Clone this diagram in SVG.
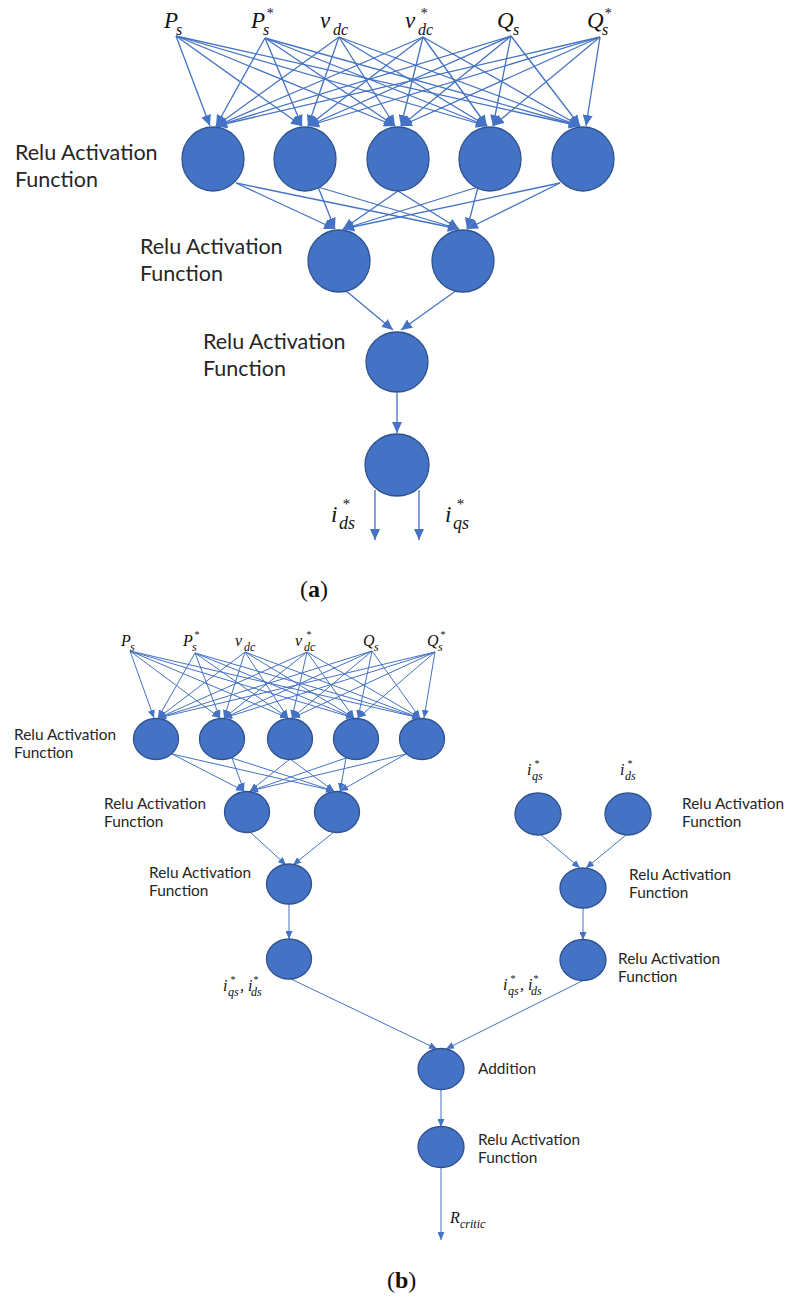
<svg xmlns="http://www.w3.org/2000/svg" width="787" height="1304" viewBox="0 0 787 1304">
<style>
.n{fill:#4472C4;stroke:#2F528F;stroke-width:1.3}
.e{stroke:#4472C4;stroke-width:1.3;fill:none;marker-end:url(#ah)}
.es{stroke:#4472C4;stroke-width:1;fill:none;marker-end:url(#ahs)}
.la{font-family:Lato,"Open Sans",sans-serif;font-size:21.5px;fill:#262626}
.lb{font-family:Lato,"Open Sans",sans-serif;font-size:15.4px;fill:#262626}
.ma{font-family:"Liberation Serif",serif;font-style:italic;font-size:23px;fill:#111}
.mb{font-family:"Liberation Serif",serif;font-style:italic;font-size:16px;fill:#111}
.cap{font-family:"Liberation Serif",serif;font-size:24px;fill:#111}
</style>
<defs>
<marker id="ah" markerUnits="userSpaceOnUse" markerWidth="11" markerHeight="10" refX="11" refY="5" orient="auto"><path d="M0,0 L11,5 L0,10 z" fill="#4472C4"/></marker>
<marker id="ahs" markerUnits="userSpaceOnUse" markerWidth="8" markerHeight="7" refX="8" refY="3.5" orient="auto"><path d="M0,0 L8,3.5 L0,7 z" fill="#4472C4"/></marker>
</defs>
<rect width="787" height="1304" fill="#fff"/>

<g id="connectors">
<!-- (a) inputs to layer 1 -->
<path class="e" d="M176,36 L210,126"/><path class="e" d="M265,38 L216,126"/><path class="e" d="M339,37 L216,126"/><path class="e" d="M423,37 L216,126"/><path class="e" d="M511,36 L216,126"/><path class="e" d="M600,37 L216,126"/>
<path class="e" d="M176,36 L302,126"/><path class="e" d="M265,38 L302,126"/><path class="e" d="M339,37 L308,126"/><path class="e" d="M423,37 L308,126"/><path class="e" d="M511,36 L308,126"/><path class="e" d="M600,37 L308,126"/>
<path class="e" d="M176,36 L395,126"/><path class="e" d="M265,38 L395,126"/><path class="e" d="M339,37 L395,126"/><path class="e" d="M423,37 L401,126"/><path class="e" d="M511,36 L401,126"/><path class="e" d="M600,37 L401,126"/>
<path class="e" d="M176,36 L487,126"/><path class="e" d="M265,38 L487,126"/><path class="e" d="M339,37 L487,126"/><path class="e" d="M423,37 L487,126"/><path class="e" d="M511,36 L493,126"/><path class="e" d="M600,37 L493,126"/>
<path class="e" d="M176,36 L580,126"/><path class="e" d="M265,38 L580,126"/><path class="e" d="M339,37 L580,126"/><path class="e" d="M423,37 L580,126"/><path class="e" d="M511,36 L580,126"/><path class="e" d="M600,37 L586,126"/>
<!-- (a) layer 1 to layer 2 -->
<path class="e" d="M236,183 L335,229"/><path class="e" d="M236,183 L459,229"/>
<path class="e" d="M318,187 L335,229"/><path class="e" d="M318,187 L459,229"/>
<path class="e" d="M398,191 L343,229"/><path class="e" d="M398,191 L459,229"/>
<path class="e" d="M478,187 L343,229"/><path class="e" d="M478,187 L467,229"/>
<path class="e" d="M560,183 L343,229"/><path class="e" d="M560,183 L467,229"/>
<!-- (a) layer 2 to 3, 3 to 4, outputs -->
<path class="e" d="M345,290 L393,330"/><path class="e" d="M457,290 L401,330"/>
<path class="e" d="M397,393 L397,433"/>
<path class="e" d="M375,490 L375,540"/><path class="e" d="M419,490 L419,540"/>

<!-- (b) inputs to layer 1 -->
<path class="es" d="M130,651 L154,718"/><path class="es" d="M195,653 L158,718"/><path class="es" d="M245,652 L158,718"/><path class="es" d="M307,652 L158,718"/><path class="es" d="M372,651 L158,718"/><path class="es" d="M435,652 L158,718"/>
<path class="es" d="M130,651 L220,718"/><path class="es" d="M195,653 L220,718"/><path class="es" d="M245,652 L224,718"/><path class="es" d="M307,652 L224,718"/><path class="es" d="M372,651 L224,718"/><path class="es" d="M435,652 L224,718"/>
<path class="es" d="M130,651 L288,718"/><path class="es" d="M195,653 L288,718"/><path class="es" d="M245,652 L288,718"/><path class="es" d="M307,652 L292,718"/><path class="es" d="M372,651 L292,718"/><path class="es" d="M435,652 L292,718"/>
<path class="es" d="M130,651 L354,718"/><path class="es" d="M195,653 L354,718"/><path class="es" d="M245,652 L354,718"/><path class="es" d="M307,652 L354,718"/><path class="es" d="M372,651 L358,718"/><path class="es" d="M435,652 L358,718"/>
<path class="es" d="M130,651 L420,718"/><path class="es" d="M195,653 L420,718"/><path class="es" d="M245,652 L420,718"/><path class="es" d="M307,652 L420,718"/><path class="es" d="M372,651 L420,718"/><path class="es" d="M435,652 L424,718"/>
<!-- (b) layer 1 to layer 2 -->
<path class="es" d="M172,754 L244,791"/><path class="es" d="M172,754 L334,791"/>
<path class="es" d="M232,758 L244,791"/><path class="es" d="M232,758 L334,791"/>
<path class="es" d="M290,759 L250,791"/><path class="es" d="M290,759 L334,791"/>
<path class="es" d="M346,758 L250,791"/><path class="es" d="M346,758 L340,791"/>
<path class="es" d="M406,754 L250,791"/><path class="es" d="M406,754 L340,791"/>
<!-- (b) rest -->
<path class="es" d="M250,832 L286,865"/><path class="es" d="M334,832 L293,865"/>
<path class="es" d="M289,904 L289,939"/>
<path class="es" d="M291,979 L437,1049"/>
<path class="es" d="M541,835 L580,868"/><path class="es" d="M626,835 L586,868"/>
<path class="es" d="M583,908 L583,940"/>
<path class="es" d="M582,981 L446,1049"/>
<path class="es" d="M441,1089 L441,1127"/>
<path class="es" d="M441,1168 L441,1240"/>
</g>

<!-- (a) inputs -->
<g id="a-in-Ps"><text class="ma" x="164" y="28">P<tspan font-size="16" x="176" y="35">s</tspan></text></g>
<g id="a-in-Ps-ref"><text class="ma" x="251" y="28">P<tspan font-size="16" x="263" y="35">s</tspan><tspan font-size="14" x="266" y="18">*</tspan></text></g>
<g id="a-in-vdc"><text class="ma" x="320" y="28">v<tspan font-size="16" x="333" y="35">dc</tspan></text></g>
<g id="a-in-vdc-ref"><text class="ma" x="405" y="28">v<tspan font-size="14" x="420" y="18">*</tspan><tspan font-size="16" x="418" y="35">dc</tspan></text></g>
<g id="a-in-Qs"><text class="ma" x="497" y="28">Q<tspan font-size="16" x="513" y="35">s</tspan></text></g>
<g id="a-in-Qs-ref"><text class="ma" x="587" y="28">Q<tspan font-size="16" x="602" y="35">s</tspan><tspan font-size="14" x="604" y="18">*</tspan></text></g>

<g id="a-l1-1"><ellipse class="n" cx="213" cy="159" rx="31" ry="32"/></g>
<g id="a-l1-2"><ellipse class="n" cx="305" cy="159" rx="31" ry="32"/></g>
<g id="a-l1-3"><ellipse class="n" cx="398" cy="159" rx="31" ry="32"/></g>
<g id="a-l1-4"><ellipse class="n" cx="490" cy="159" rx="31" ry="32"/></g>
<g id="a-l1-5"><ellipse class="n" cx="583" cy="159" rx="31" ry="32"/></g>
<g id="a-l2-1"><ellipse class="n" cx="339" cy="261" rx="31" ry="31"/></g>
<g id="a-l2-2"><ellipse class="n" cx="463" cy="261" rx="31" ry="31"/></g>
<g id="a-l3"><ellipse class="n" cx="397" cy="362" rx="31" ry="30"/></g>
<g id="a-l4"><ellipse class="n" cx="397" cy="465" rx="32" ry="31"/></g>

<g id="a-lbl-1"><text class="la" x="15" y="160">Relu Activation</text><text class="la" x="15" y="187">Function</text></g>
<g id="a-lbl-2"><text class="la" x="140" y="254">Relu Activation</text><text class="la" x="140" y="281">Function</text></g>
<g id="a-lbl-3"><text class="la" x="203" y="349">Relu Activation</text><text class="la" x="203" y="376">Function</text></g>
<g id="a-out-ids"><text class="ma" x="331" y="522" font-size="25">i<tspan font-size="18" x="339" y="529">ds</tspan><tspan font-size="15" x="342" y="509">*</tspan></text></g>
<g id="a-out-iqs"><text class="ma" x="445" y="522" font-size="25">i<tspan font-size="18" x="453" y="529">qs</tspan><tspan font-size="15" x="456" y="509">*</tspan></text></g>
<g id="cap-a"><text class="cap" x="300" y="597">(<tspan font-weight="bold">a</tspan>)</text></g>

<!-- (b) inputs -->
<g id="b-in-Ps"><text class="mb" x="121" y="646">P<tspan font-size="12" x="130" y="651">s</tspan></text></g>
<g id="b-in-Ps-ref"><text class="mb" x="183" y="646">P<tspan font-size="12" x="192" y="651">s</tspan><tspan font-size="10" x="194" y="638">*</tspan></text></g>
<g id="b-in-vdc"><text class="mb" x="235" y="646">v<tspan font-size="12" x="244" y="651">dc</tspan></text></g>
<g id="b-in-vdc-ref"><text class="mb" x="295" y="646">v<tspan font-size="10" x="306" y="638">*</tspan><tspan font-size="12" x="304" y="651">dc</tspan></text></g>
<g id="b-in-Qs"><text class="mb" x="363" y="646">Q<tspan font-size="12" x="374" y="651">s</tspan></text></g>
<g id="b-in-Qs-ref"><text class="mb" x="427" y="646">Q<tspan font-size="12" x="438" y="651">s</tspan><tspan font-size="10" x="440" y="638">*</tspan></text></g>

<g id="b-l1-1"><ellipse class="n" cx="156" cy="739" rx="22.5" ry="20.5"/></g>
<g id="b-l1-2"><ellipse class="n" cx="222" cy="739" rx="22.5" ry="20.5"/></g>
<g id="b-l1-3"><ellipse class="n" cx="290" cy="739" rx="22.5" ry="20.5"/></g>
<g id="b-l1-4"><ellipse class="n" cx="356" cy="739" rx="22.5" ry="20.5"/></g>
<g id="b-l1-5"><ellipse class="n" cx="422" cy="739" rx="22.5" ry="20.5"/></g>
<g id="b-l2-1"><ellipse class="n" cx="247" cy="812" rx="22.5" ry="20.5"/></g>
<g id="b-l2-2"><ellipse class="n" cx="337" cy="812" rx="22.5" ry="20.5"/></g>
<g id="b-l3"><ellipse class="n" cx="289" cy="884" rx="22.5" ry="20"/></g>
<g id="b-l4"><ellipse class="n" cx="289" cy="959" rx="22.5" ry="20"/></g>
<g id="b-r-iqs"><ellipse class="n" cx="538" cy="814" rx="23" ry="21"/></g>
<g id="b-r-ids"><ellipse class="n" cx="628" cy="814" rx="23" ry="21"/></g>
<g id="b-r-mid"><ellipse class="n" cx="583" cy="888" rx="23" ry="20"/></g>
<g id="b-r-bot"><ellipse class="n" cx="583" cy="960" rx="23" ry="20.5"/></g>
<g id="b-add"><ellipse class="n" cx="441" cy="1069" rx="23" ry="20.5"/></g>
<g id="b-final"><ellipse class="n" cx="441" cy="1147" rx="23" ry="20.5"/></g>

<g id="b-lbl-1"><text class="lb" x="14" y="740">Relu Activation</text><text class="lb" x="14" y="758">Function</text></g>
<g id="b-lbl-2"><text class="lb" x="104" y="809">Relu Activation</text><text class="lb" x="104" y="827">Function</text></g>
<g id="b-lbl-3"><text class="lb" x="149" y="878">Relu Activation</text><text class="lb" x="149" y="896">Function</text></g>
<g id="b-lbl-r1"><text class="lb" x="682" y="809">Relu Activation</text><text class="lb" x="682" y="827">Function</text></g>
<g id="b-lbl-r2"><text class="lb" x="629" y="880">Relu Activation</text><text class="lb" x="629" y="898">Function</text></g>
<g id="b-lbl-r3"><text class="lb" x="618" y="964">Relu Activation</text><text class="lb" x="618" y="982">Function</text></g>
<g id="b-lbl-add"><text class="lb" x="478" y="1074">Addition</text></g>
<g id="b-lbl-final"><text class="lb" x="478" y="1145">Relu Activation</text><text class="lb" x="478" y="1163">Function</text></g>

<g id="b-in-iqs"><text class="mb" x="527" y="775">i<tspan font-size="12" x="532" y="780">qs</tspan><tspan font-size="10" x="534" y="767">*</tspan></text></g>
<g id="b-in-ids"><text class="mb" x="620" y="775">i<tspan font-size="12" x="625" y="780">ds</tspan><tspan font-size="10" x="627" y="767">*</tspan></text></g>
<g id="b-out-left"><text class="mb" x="223" y="991">i<tspan font-size="12" x="228" y="996">qs</tspan><tspan font-size="10" x="230" y="983">*</tspan><tspan x="240" y="991">, i</tspan><tspan font-size="12" x="251" y="996">ds</tspan><tspan font-size="10" x="253" y="983">*</tspan></text></g>
<g id="b-out-right"><text class="mb" x="503" y="990">i<tspan font-size="12" x="508" y="995">qs</tspan><tspan font-size="10" x="510" y="982">*</tspan><tspan x="520" y="990">, i</tspan><tspan font-size="12" x="531" y="995">ds</tspan><tspan font-size="10" x="533" y="982">*</tspan></text></g>
<g id="b-out-R"><text class="mb" x="450" y="1223">R<tspan font-size="12" x="460" y="1228">critic</tspan></text></g>
<g id="cap-b"><text class="cap" x="387" y="1288">(<tspan font-weight="bold">b</tspan>)</text></g>
</svg>
